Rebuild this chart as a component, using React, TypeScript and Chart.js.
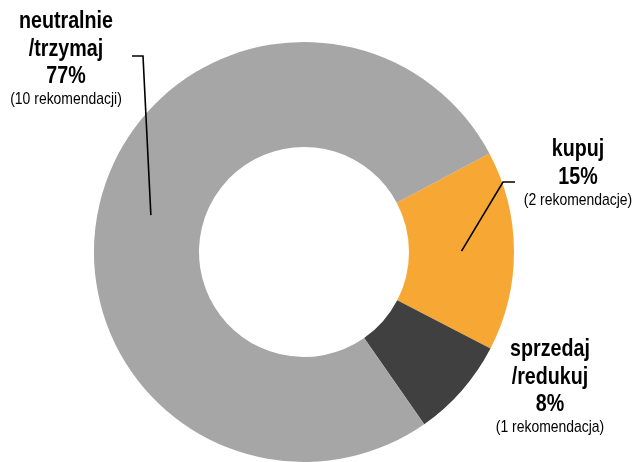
import React, { useEffect, useRef } from "react";
import { Chart, registerables } from "chart.js";

Chart.register(...registerables);

// ---- data ----
const categories = ["kupuj", "sprzedaj/redukuj", "neutralnie/trzymaj"];
const titleLines = [["kupuj"], ["sprzedaj", "/redukuj"], ["neutralnie", "/trzymaj"]];
const counts = [2, 1, 10];
const countLabels = ["(2 rekomendacje)", "(1 rekomendacja)", "(10 rekomendacji)"];

// ---- styles / layout ----
const colors = ["#F7A734", "#404040", "#A6A6A6"];
const labelAnchors = [
  { x: 578, y: 156 },
  { x: 550, y: 356 },
  { x: 66, y: 28 },
];
const leaderElbows: (number[][] | null)[] = [
  [[515, 182], [503, 182]],
  null,
  [[132, 56], [143, 56]],
];

const labelPlugin = {
  id: "sliceLabels",
  afterDraw(chart: any) {
    const ctx = chart.ctx as CanvasRenderingContext2D;
    const meta = chart.getDatasetMeta(0);
    const total = counts.reduce((a, b) => a + b, 0);
    ctx.save();
    // leader lines
    ctx.strokeStyle = "#000";
    ctx.lineWidth = 1.6;
    meta.data.forEach((arc: any, i: number) => {
      const elbow = leaderElbows[i];
      if (!elbow) return;
      const p = arc.tooltipPosition();
      ctx.beginPath();
      ctx.moveTo(elbow[0][0], elbow[0][1]);
      ctx.lineTo(elbow[1][0], elbow[1][1]);
      ctx.lineTo(p.x, p.y);
      ctx.stroke();
    });
    // texts
    ctx.fillStyle = "#000";
    ctx.textAlign = "center";
    ctx.textBaseline = "alphabetic";
    const drawNarrow = (t: string, x: number, y: number, font: string) => {
      ctx.save();
      ctx.font = font;
      ctx.translate(x, y);
      ctx.scale(0.82, 1);
      ctx.fillText(t, 0, 0);
      ctx.restore();
    };
    counts.forEach((c, i) => {
      const a = labelAnchors[i];
      const lines = [...titleLines[i], Math.round((c / total) * 100) + "%"];
      let y = a.y;
      lines.forEach((ln) => {
        drawNarrow(ln, a.x, y, 'bold 24px "Liberation Sans", Arial, sans-serif');
        y += 27.5;
      });
      drawNarrow(countLabels[i], a.x, y - 6.5, '17px "Liberation Sans", Arial, sans-serif');
    });
    ctx.restore();
  },
};

export default function App() {
  const ref = useRef<HTMLCanvasElement>(null);
  useEffect(() => {
    if (!ref.current) return;
    const chart = new Chart(ref.current, {
      type: "doughnut",
      data: {
        labels: categories,
        datasets: [
          {
            data: counts,
            backgroundColor: colors,
            borderWidth: 0,
          },
        ],
      },
      options: {
        animation: false,
        responsive: false,
        rotation: 62,
        cutout: "50%",
        layout: { padding: { left: 94, right: 121, top: 42, bottom: 0 } },
        plugins: {
          legend: { display: false },
          tooltip: { enabled: false },
        },
      },
      plugins: [labelPlugin],
    });
    return () => chart.destroy();
  }, []);
  return (
    <div style={{ position: "absolute", left: 0, top: 0, width: 635, height: 462, background: "#fff" }}>
      <canvas ref={ref} width={635} height={462} style={{ display: "block" }} />
    </div>
  );
}
